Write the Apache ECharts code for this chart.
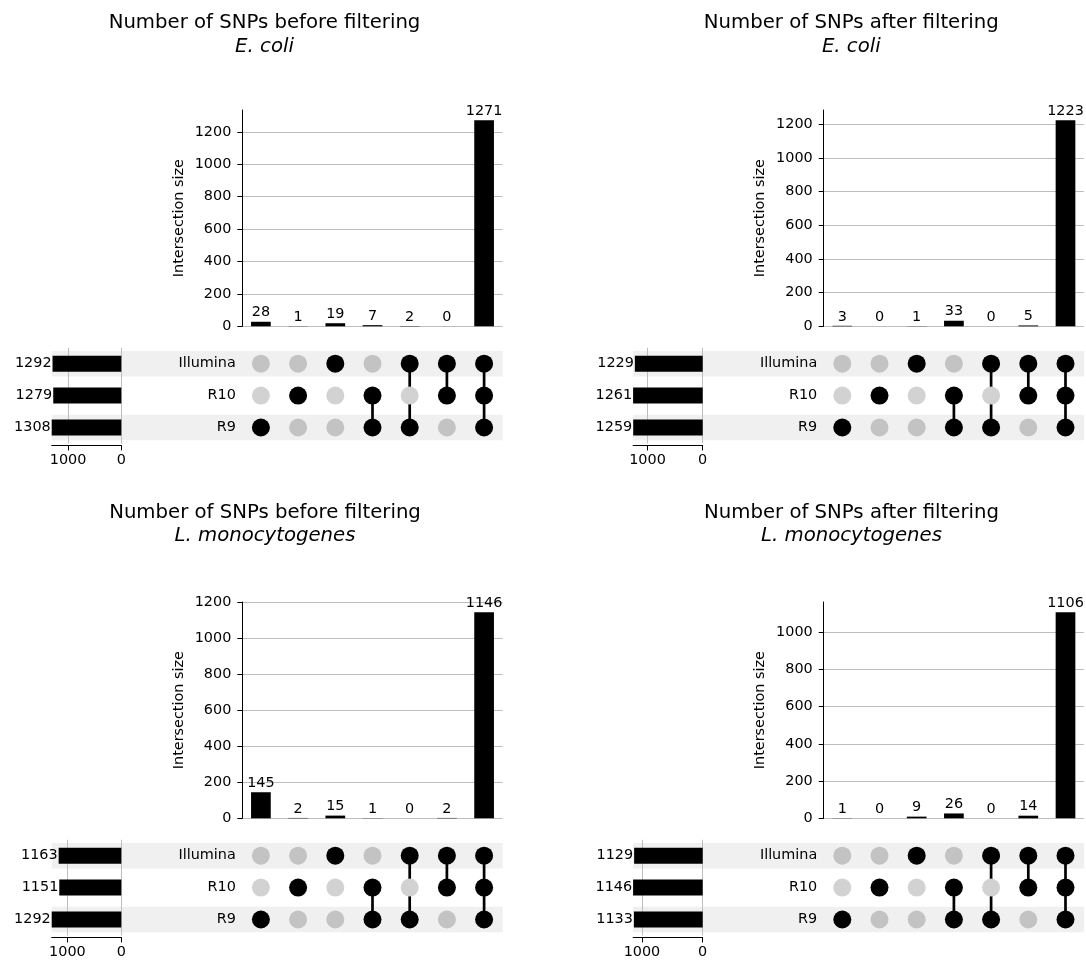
<!DOCTYPE html>
<html><head><meta charset="utf-8">
<script src="https://cdn.jsdelivr.net/npm/echarts@6/dist/echarts.min.js"></script>
<style>html,body{margin:0;padding:0;background:#fff}#c{width:1086px;height:960px}</style>
</head><body><div id="c"></div>
<script>
// Sets listed bottom-to-top as in the matrix
const sets = ['R9', 'R10', 'Illumina'];
// Intersection columns (left to right): members of each
const combos = [['R9'], ['R10'], ['Illumina'], ['R9', 'R10'], ['R9', 'Illumina'], ['R10', 'Illumina'], ['R9', 'R10', 'Illumina']];

const ecoliBeforeCounts = [28, 1, 19, 7, 2, 0, 1271];
const ecoliBeforeTotals = [1308, 1279, 1292];      // R9, R10, Illumina
const ecoliAfterCounts = [3, 0, 1, 33, 0, 5, 1223];
const ecoliAfterTotals = [1259, 1261, 1229];
const listeriaBeforeCounts = [145, 2, 15, 1, 0, 2, 1146];
const listeriaBeforeTotals = [1292, 1151, 1163];
const listeriaAfterCounts = [1, 0, 9, 26, 0, 14, 1106];
const listeriaAfterTotals = [1133, 1146, 1129];

const ticksTo1200 = [0, 200, 400, 600, 800, 1000, 1200];
const ticksTo1000 = [0, 200, 400, 600, 800, 1000];
const totalTicks = [0, 1000];
const titleLines = ['Number of SNPs before filtering', 'Number of SNPs after filtering'];
const organisms = ['E. coli', 'L. monocytogenes'];

const FONT = 'DejaVu Sans';
const FS = 14.4;
const plain = v => String(v);

const panels = [
  {counts: ecoliBeforeCounts, totals: ecoliBeforeTotals, ticks: ticksTo1200, t: titleLines[0], o: organisms[0], dx: 0, dy: 0, tx: 264.5, ty: 23},
  {counts: ecoliAfterCounts, totals: ecoliAfterTotals, ticks: ticksTo1200, t: titleLines[1], o: organisms[0], dx: 581.4, dy: 0, tx: 851.3, ty: 23},
  {counts: listeriaBeforeCounts, totals: listeriaBeforeTotals, ticks: ticksTo1200, t: titleLines[0], o: organisms[1], dx: 0, dy: 492, tx: 265, ty: 512.5},
  {counts: listeriaAfterCounts, totals: listeriaAfterTotals, ticks: ticksTo1000, t: titleLines[1], o: organisms[1], dx: 581.4, dy: 492, tx: 851.5, ty: 512.5}
];

const grid = [], xAxis = [], yAxis = [], series = [], graphic = [];

panels.forEach((p, pi) => {
  const b = pi * 4;
  const cols = p.counts.map((_, i) => i);
  const rowTop = 347.75 + p.dy, rowH = 95.7;

  // 0: intersection bars
  grid.push({left: 242.3 + p.dx, top: 110 + p.dy, width: 260.4, height: 216.3});
  xAxis.push({gridIndex: b, type: 'category', data: cols, show: false});
  yAxis.push({
    gridIndex: b, type: 'value', min: 0, max: Math.max(...p.counts) * 1.05,
    name: 'Intersection size', nameLocation: 'middle', nameGap: 56,
    nameTextStyle: {fontSize: FS, color: '#000', fontFamily: FONT},
    axisLine: {show: true, lineStyle: {color: '#000', width: 1}},
    axisTick: {show: true, length: 5, customValues: p.ticks, lineStyle: {color: '#000'}},
    axisLabel: {customValues: p.ticks, formatter: plain, fontSize: FS, color: '#000', margin: 11, fontFamily: FONT},
    splitLine: {show: true, lineStyle: {color: '#bdbdbd', width: 1}}
  });
  series.push({
    type: 'bar', xAxisIndex: b, yAxisIndex: b, data: p.counts, barWidth: 19.7,
    itemStyle: {color: '#000'}, z: 2,
    label: {show: true, position: 'top', distance: 2, fontSize: FS, color: '#000', fontFamily: FONT}
  });

  // 1: alternating row shading
  grid.push({left: 51.7 + p.dx, top: rowTop, width: 451, height: rowH});
  xAxis.push({gridIndex: b + 1, type: 'value', min: 0, max: 1, show: false});
  yAxis.push({gridIndex: b + 1, type: 'category', data: sets, show: false});
  series.push({
    type: 'bar', xAxisIndex: b + 1, yAxisIndex: b + 1, silent: true,
    data: sets.map((s, i) => (i % 2 === 0 ? 1 : 0)), barWidth: 25.5,
    itemStyle: {color: '#f0f0f0'}, z: 0
  });

  // 2: set size bars
  grid.push({left: 51.7 + p.dx, top: rowTop, width: 69.6, height: rowH});
  xAxis.push({
    gridIndex: b + 2, type: 'value', inverse: true, min: 0, max: Math.max(...p.totals),
    position: 'bottom', offset: 2, z: 1,
    axisLine: {show: true, lineStyle: {color: '#000', width: 1}},
    axisTick: {show: true, length: 5, customValues: totalTicks, lineStyle: {color: '#000'}},
    axisLabel: {customValues: totalTicks, formatter: plain, fontSize: FS, color: '#000', margin: 8, fontFamily: FONT},
    splitLine: {show: true, lineStyle: {color: '#bdbdbd', width: 1}}
  });
  yAxis.push({gridIndex: b + 2, type: 'category', data: sets, show: false});
  series.push({
    type: 'bar', xAxisIndex: b + 2, yAxisIndex: b + 2, data: p.totals, barWidth: 16,
    itemStyle: {color: '#000'}, z: 2,
    label: {show: true, position: 'left', distance: 1, fontSize: FS, color: '#000', fontFamily: FONT}
  });

  // 3: membership matrix
  grid.push({left: 242.3 + p.dx, top: rowTop, width: 260.4, height: rowH});
  xAxis.push({gridIndex: b + 3, type: 'category', data: cols, show: false});
  yAxis.push({
    gridIndex: b + 3, type: 'category', data: sets, z: 3,
    axisLine: {show: false}, axisTick: {show: false},
    axisLabel: {fontSize: FS, color: '#000', margin: 6.5, fontFamily: FONT}
  });
  combos.forEach((members, c) => {
    const idx = members.map(m => sets.indexOf(m));
    if (idx.length > 1) {
      series.push({
        type: 'line', xAxisIndex: b + 3, yAxisIndex: b + 3, silent: true,
        data: [[c, Math.min(...idx)], [c, Math.max(...idx)]],
        symbol: 'none', lineStyle: {color: '#000', width: 2.7}, z: 3
      });
    }
  });
  const dots = [];
  combos.forEach((members, c) => {
    sets.forEach((s, r) => {
      const on = members.includes(s);
      dots.push({value: [c, r], itemStyle: {opacity: 1, color: on ? '#000' : (r % 2 === 0 ? '#c3c3c3' : '#d2d2d2')}});
    });
  });
  series.push({
    type: 'scatter', xAxisIndex: b + 3, yAxisIndex: b + 3, silent: true,
    data: dots, symbolSize: 18, itemStyle: {opacity: 1}, z: 4
  });

  graphic.push({type: 'text', x: p.tx, y: p.ty, style: {text: p.t, font: '19.7px "' + FONT + '"', fill: '#000', align: 'center', verticalAlign: 'middle'}});
  graphic.push({type: 'text', x: p.tx, y: p.ty + 23.5, style: {text: p.o, font: 'italic 19.7px "' + FONT + '"', fill: '#000', align: 'center', verticalAlign: 'middle'}});
});

const chart = echarts.init(document.getElementById('c'));
chart.setOption({
  animation: false,
  backgroundColor: '#fff',
  textStyle: {fontFamily: FONT},
  grid, xAxis, yAxis, series, graphic
});
</script>
</body></html>
